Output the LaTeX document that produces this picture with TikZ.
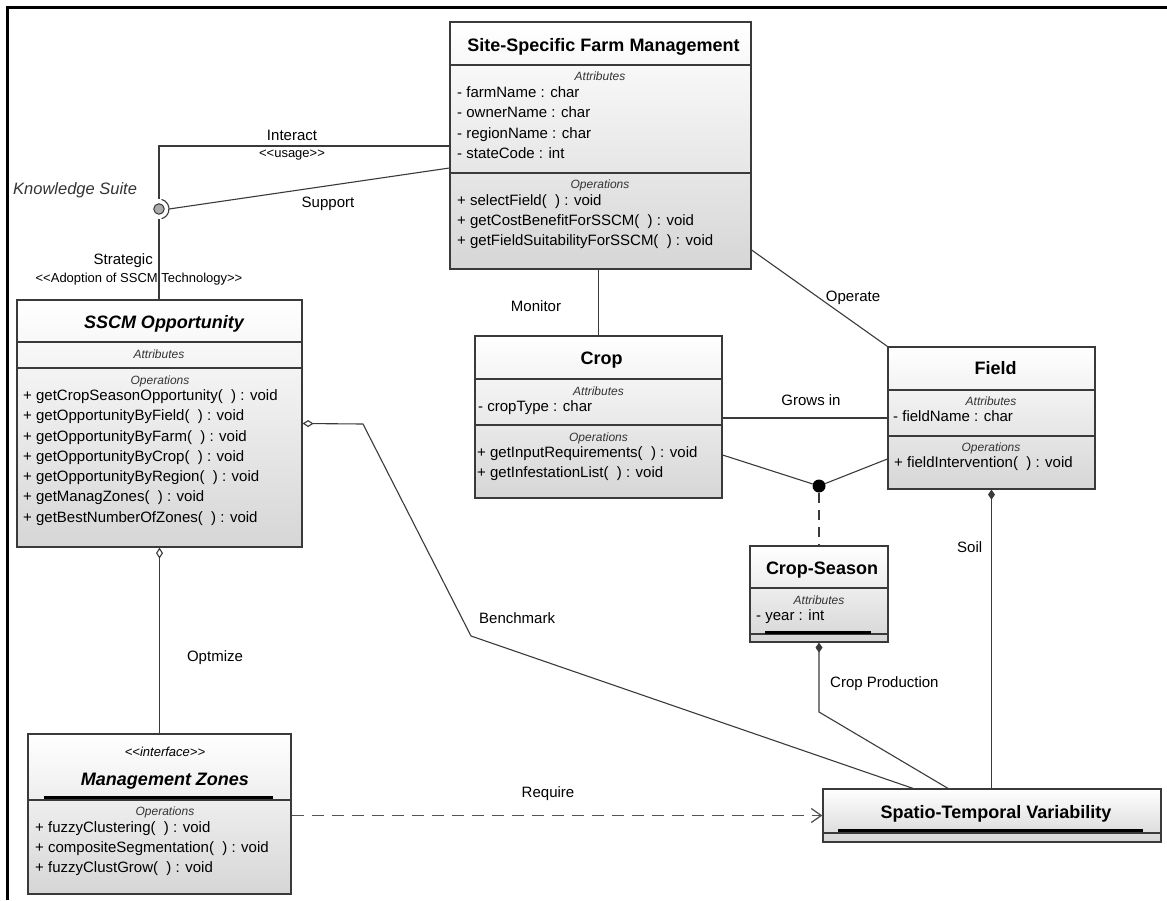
\documentclass[tikz,border=0pt]{standalone}
\usepackage{fontspec}
\setmainfont{Liberation Sans}
\usetikzlibrary{arrows.meta,calc}

\definecolor{edge}{HTML}{3A3A3A}
\definecolor{shadebot}{HTML}{D6D6D6}
\definecolor{hdr}{HTML}{333333}
\definecolor{dashgray}{HTML}{555555}

\newcommand\fbody{\fontsize{15}{18}\selectfont}
\newcommand\fhead{\fontsize{18}{21}\selectfont\bfseries}
\newcommand\fsect{\fontsize{12}{14}\selectfont\itshape}
\newcommand\fster{\fontsize{13}{15}\selectfont}
\newcommand\pp{(\ \ )}
% guillemet-free stereotype brackets
\newcommand\stl{<\kern0pt<}
\newcommand\stg{>\kern0pt>}

\begin{document}
\begin{tikzpicture}[x=1pt,y=-1pt,
  classbox/.style={draw=edge, line width=1.2pt, top color=white, bottom color=shadebot, inner sep=0pt},
  compart/.style={draw=edge, line width=1.1pt},
  activebar/.style={draw=black, line width=3pt},
  member/.style={inner sep=0pt, anchor=base west, font=\fbody},
  secthead/.style={inner sep=0pt, anchor=base, font=\fsect, text=hdr},
  classname/.style={inner sep=0pt, anchor=base, font=\fhead},
  rolelabel/.style={inner sep=0pt, anchor=base, font=\fbody},
  stereo/.style={inner sep=0pt, anchor=base, font=\fster},
  conn/.style={draw=edge, line width=1.1pt},
  aggr/.style={conn, {Diamond[open,length=11pt,width=7pt]}-},
  compo/.style={conn, {Diamond[length=10pt,width=7pt]}-},
]
\useasboundingbox (0,0) rectangle (1167,900);

% outer frame (top and left edges)
\draw[line width=3pt, black, line join=miter] (7.5,900) -- (7.5,7.5) -- (1167,7.5);

% ---------- Site-Specific Farm Management ----------
\node[classbox, minimum width=301pt, minimum height=247pt] (site) at (600.5,145.5) {};
\draw[compart] (450,65) -- (751,65);
\draw[compart] (450,173) -- (751,173);
\node[classname] (siteT) at (603.5,51) {Site-Specific Farm Management};
\node[secthead] (siteA) at (600,80) {Attributes};
\node[member] (siteA1) at (457,97) {- farmName : char};
\node[member] (siteA2) at (457,117) {- ownerName : char};
\node[member] (siteA3) at (457,138) {- regionName : char};
\node[member] (siteA4) at (457,158) {- stateCode : int};
\node[secthead] (siteO) at (600,188) {Operations};
\node[member] (siteO1) at (457,205) {+ selectField\pp{} : void};
\node[member] (siteO2) at (457,225) {+ getCostBenefitForSSCM\pp{} : void};
\node[member] (siteO3) at (457,245) {+ getFieldSuitabilityForSSCM\pp{} : void};

% ---------- SSCM Opportunity ----------
\node[classbox, minimum width=285pt, minimum height=247pt] (sscm) at (159.5,423.5) {};
\draw[compart] (17,342) -- (302,342);
\draw[compart] (17,368) -- (302,368);
\node[classname, font=\fhead\itshape] (sscmT) at (164,328) {SSCM Opportunity};
\node[secthead] (sscmA) at (159,358) {Attributes};
\node[secthead] (sscmO) at (160,384) {Operations};
\node[member] (sscmO1) at (23,400) {+ getCropSeasonOpportunity\pp{} : void};
\node[member] (sscmO2) at (23,420) {+ getOpportunityByField\pp{} : void};
\node[member] (sscmO3) at (23,441) {+ getOpportunityByFarm\pp{} : void};
\node[member] (sscmO4) at (23,461) {+ getOpportunityByCrop\pp{} : void};
\node[member] (sscmO5) at (23,481) {+ getOpportunityByRegion\pp{} : void};
\node[member] (sscmO6) at (23,501) {+ getManagZones\pp{} : void};
\node[member] (sscmO7) at (23,522) {+ getBestNumberOfZones\pp{} : void};

% ---------- Crop ----------
\node[classbox, minimum width=247pt, minimum height=162pt] (crop) at (598.5,417) {};
\draw[compart] (475,379) -- (722,379);
\draw[compart] (475,425) -- (722,425);
\node[classname] (cropT) at (601.5,364) {Crop};
\node[secthead] (cropA) at (598.5,395) {Attributes};
\node[member] (cropA1) at (478,411) {- cropType : char};
\node[secthead] (cropO) at (598.5,441) {Operations};
\node[member] (cropO1) at (477,457) {+ getInputRequirements\pp{} : void};
\node[member] (cropO2) at (477,477) {+ getInfestationList\pp{} : void};

% ---------- Field ----------
\node[classbox, minimum width=207pt, minimum height=142pt] (field) at (991.5,418) {};
\draw[compart] (888,390) -- (1095,390);
\draw[compart] (888,436) -- (1095,436);
\node[classname] (fieldT) at (995.5,374) {Field};
\node[secthead] (fieldA) at (991,405) {Attributes};
\node[member] (fieldA1) at (893,421) {- fieldName : char};
\node[secthead] (fieldO) at (991,451) {Operations};
\node[member] (fieldO1) at (894,467) {+ fieldIntervention\pp{} : void};

% ---------- Crop-Season ----------
\node[classbox, minimum width=138pt, minimum height=96pt] (season) at (819,594) {};
\draw[compart] (750,588) -- (888,588);
\draw[compart] (750,634) -- (888,634);
\node[classname] (seasonT) at (822,574) {Crop-Season};
\node[secthead] (seasonA) at (819,604) {Attributes};
\node[member] (seasonA1) at (756,620) {- year : int};
\draw[activebar] (765,632) -- (871,632);

% ---------- Spatio-Temporal Variability ----------
\node[classbox, minimum width=338pt, minimum height=53pt] (stv) at (992,815.5) {};
\draw[compart] (823,833) -- (1161,833);
\draw[activebar] (838,830.5) -- (1143,830.5);
\node[classname] (stvT) at (996,818) {Spatio-Temporal Variability};

% ---------- Management Zones ----------
\node[classbox, minimum width=263pt, minimum height=160pt] (mz) at (159.5,814) {};
\draw[compart] (28,800) -- (291,800);
\draw[activebar] (44,797.3) -- (273,797.3);
\node[stereo, font=\fster\itshape] (mzS) at (165,756) {\stl interface\stg};
\node[classname, font=\fhead\itshape] (mzT) at (165,785) {Management Zones};
\node[secthead] (mzO) at (165,815) {Operations};
\node[member] (mzO1) at (35,832) {+ fuzzyClustering\pp{} : void};
\node[member] (mzO2) at (35,852) {+ compositeSegmentation\pp{} : void};
\node[member] (mzO3) at (35,872) {+ fuzzyClustGrow\pp{} : void};

% ---------- Knowledge Suite interface (ball and socket) ----------
\coordinate (ks) at (159,209);
\node[circle, draw=edge, fill=black!33, line width=1pt, minimum size=10.5pt, inner sep=0pt] (ball) at (ks) {};
\draw[conn] ([shift={(75:10pt)}]ks) arc[start angle=75, end angle=-75, radius=10pt];
\node[inner sep=0pt, anchor=base west, font=\fontsize{16.5}{20}\selectfont\itshape, text=hdr] (ksName) at (13,194.5) {Knowledge Suite};

\coordinate (iy) at (0,146);
\coordinate (sy) at (0,168);
\draw[conn] ([yshift=10pt]ks) |- (site.west |- iy);
\node[rolelabel] (lInteract) at (292,140) {Interact};
\node[stereo] (lUsage) at (292,157) {\stl usage\stg};

\draw[conn] ([xshift=10pt]ks) -- (site.west |- sy);
\node[rolelabel] (lSupport) at (328,207) {Support};

\draw[conn] ([yshift=-10pt]ks) -- (ks |- sscm.north);
\node[rolelabel, anchor=base east] (lStrategic) at (153,264) {Strategic};
\node[stereo] (lAdopt) at (139,282) {\stl Adoption of SSCM Technology\stg};

% ---------- associations ----------
\draw[conn] (crop.north |- site.south) -- (crop.north);
\node[rolelabel] (lMonitor) at (536,311) {Monitor};

\coordinate (oy) at (0,250);
\draw[conn] (site.east |- oy) -- (field.north west);
\node[rolelabel] (lOperate) at (853,301) {Operate};

\draw[conn] (crop.east |- field.west) -- (field.west);
\node[rolelabel] (lGrows) at (811,405) {Grows in};

% association class Crop-Season
\node[circle, fill=black, minimum size=13pt, inner sep=0pt] (assoc) at (819,486) {};
\coordinate (ay1) at (0,455);
\coordinate (ay2) at (0,459);
\draw[conn] (crop.east |- ay1) -- (assoc);
\draw[conn] (field.west |- ay2) -- (assoc);
\draw[conn, dash pattern=on 10pt off 7pt] (assoc) -- (season.north);

% Benchmark aggregation
\coordinate (bmA) at (363,424);
\coordinate (bmB) at (471,636);
\coordinate (bmC) at (913,0);
\draw[aggr] (sscm.east) -- (bmA) -- (bmB) -- (stv.north -| bmC);
\node[rolelabel, anchor=base west] (lBench) at (479,623) {Benchmark};

% Optimize aggregation
\draw[aggr] (sscm.south) -- (mz.north);
\node[rolelabel] (lOpt) at (215,661) {Optmize};

% Crop Production composition
\coordinate (cpA) at (819,712);
\coordinate (cpB) at (948,0);
\draw[compo] (season.south) -- (cpA) -- (stv.north -| cpB);
\node[rolelabel, anchor=base west] (lCropProd) at (830,687) {Crop Production};

% Soil composition
\draw[compo] (field.south) -- (field.south |- stv.north);
\node[rolelabel, anchor=base west] (lSoil) at (957,552) {Soil};

% Require dependency
\draw[conn, draw=dashgray, line width=1.3pt, dash pattern=on 12pt off 8pt, -{Straight Barb[length=10pt,width=14pt]}] (mz.east |- stv.west) -- (stv.west);
\node[rolelabel] (lRequire) at (548,797) {Require};

\end{tikzpicture}
\end{document}
